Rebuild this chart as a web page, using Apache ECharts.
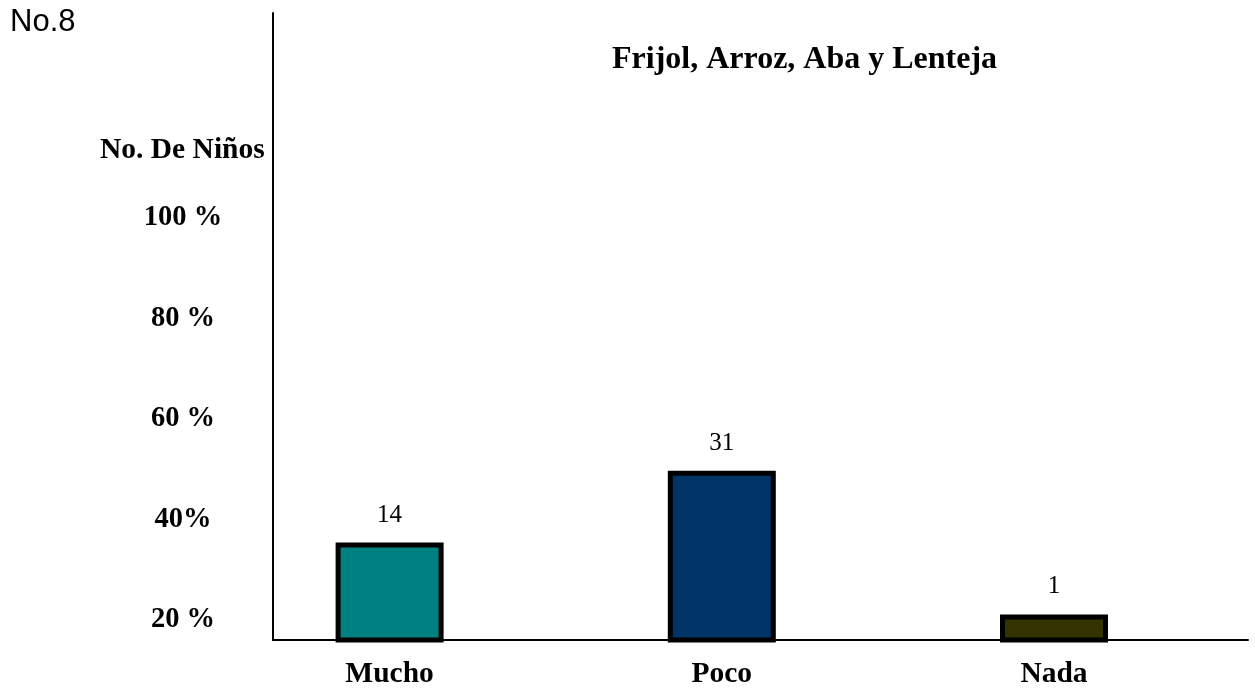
<!DOCTYPE html>
<html>
<head>
<meta charset="utf-8">
<title>No.8 - Frijol, Arroz, Aba y Lenteja</title>
<script src="https://cdn.jsdelivr.net/npm/echarts@6/dist/echarts.min.js"></script>
<style>
  html, body { margin: 0; padding: 0; background: #fff; }
  #chart { width: 1255px; height: 690px; }
</style>
</head>
<body>
<div id="chart"></div>
<script>
// categories and values
var categories = ['Mucho', 'Poco', 'Nada']
var counts = [14, 31, 1]              // numbers printed above the bars
var barHeights = [35.4, 49.7, 21.1]   // bar tops, read against the % axis
var yTickValues = [20, 40, 60, 80, 100]
var yTickLabels = ['20 %', '40%', '60 %', '80 %', '100 %']

var barColors = ['#008080', '#003366', '#333300']
var serif = "'Liberation Serif', 'Times New Roman', serif"

var chart = echarts.init(document.getElementById('chart'))

var option = {
    backgroundColor: '#fff',
    animation: false,
    title: [
        {
            text: 'No.8',
            left: 10,
            top: 7,
            padding: 0,
            textStyle: { fontFamily: "'Liberation Sans', Arial, sans-serif", fontSize: 31, fontWeight: 'normal', color: '#000' }
        },
        {
            text: 'Frijol, Arroz, Aba y Lenteja',
            left: 612,
            top: 44,
            padding: 0,
            textStyle: { fontFamily: serif, fontSize: 32, fontWeight: 'bold', color: '#000' }
        },
        {
            text: 'No. De Niños',
            left: 100,
            top: 135,
            padding: 0,
            textStyle: { fontFamily: serif, fontSize: 29.5, fontWeight: 'bold', color: '#000' }
        }
    ],
    grid: {
        left: 273,
        right: 7,
        top: 13,
        bottom: 50,
        containLabel: false
    },
    xAxis: {
        type: 'value',
        min: -0.351,
        max: 2.584,
        axisLine: { onZero: false, lineStyle: { color: '#000', width: 2 } },
        axisTick: { show: false },
        splitLine: { show: false },
        axisLabel: {
            customValues: [0, 1, 2],
            formatter: function (v) { return categories[Math.round(v)] },
            margin: 19,
            fontFamily: serif,
            fontSize: 29.5,
            fontWeight: 'bold',
            color: '#000'
        }
    },
    yAxis: {
        type: 'value',
        min: 16,
        max: 140.8,
        axisLine: { show: true, onZero: false, lineStyle: { color: '#000', width: 2 } },
        axisTick: { show: false },
        splitLine: { show: false },
        axisLabel: {
            customValues: yTickValues,
            formatter: function (v) {
                var i = yTickValues.indexOf(v)
                return i >= 0 ? yTickLabels[i] : ''
            },
            align: 'center',
            margin: 90,
            fontFamily: serif,
            fontSize: 28.5,
            fontWeight: 'bold',
            color: '#000'
        }
    },
    series: [
        {
            type: 'bar',
            barWidth: 108,
            data: barHeights.map(function (h, i) { return [i, h] }),
            itemStyle: {
                color: function (p) { return barColors[p.dataIndex] },
                borderColor: '#000',
                borderWidth: 5
            },
            label: {
                show: true,
                position: 'top',
                distance: 15,
                formatter: function (p) { return String(counts[p.dataIndex]) },
                fontFamily: serif,
                fontSize: 25,
                color: '#000'
            }
        }
    ]
}

chart.setOption(option)
</script>
</body>
</html>
